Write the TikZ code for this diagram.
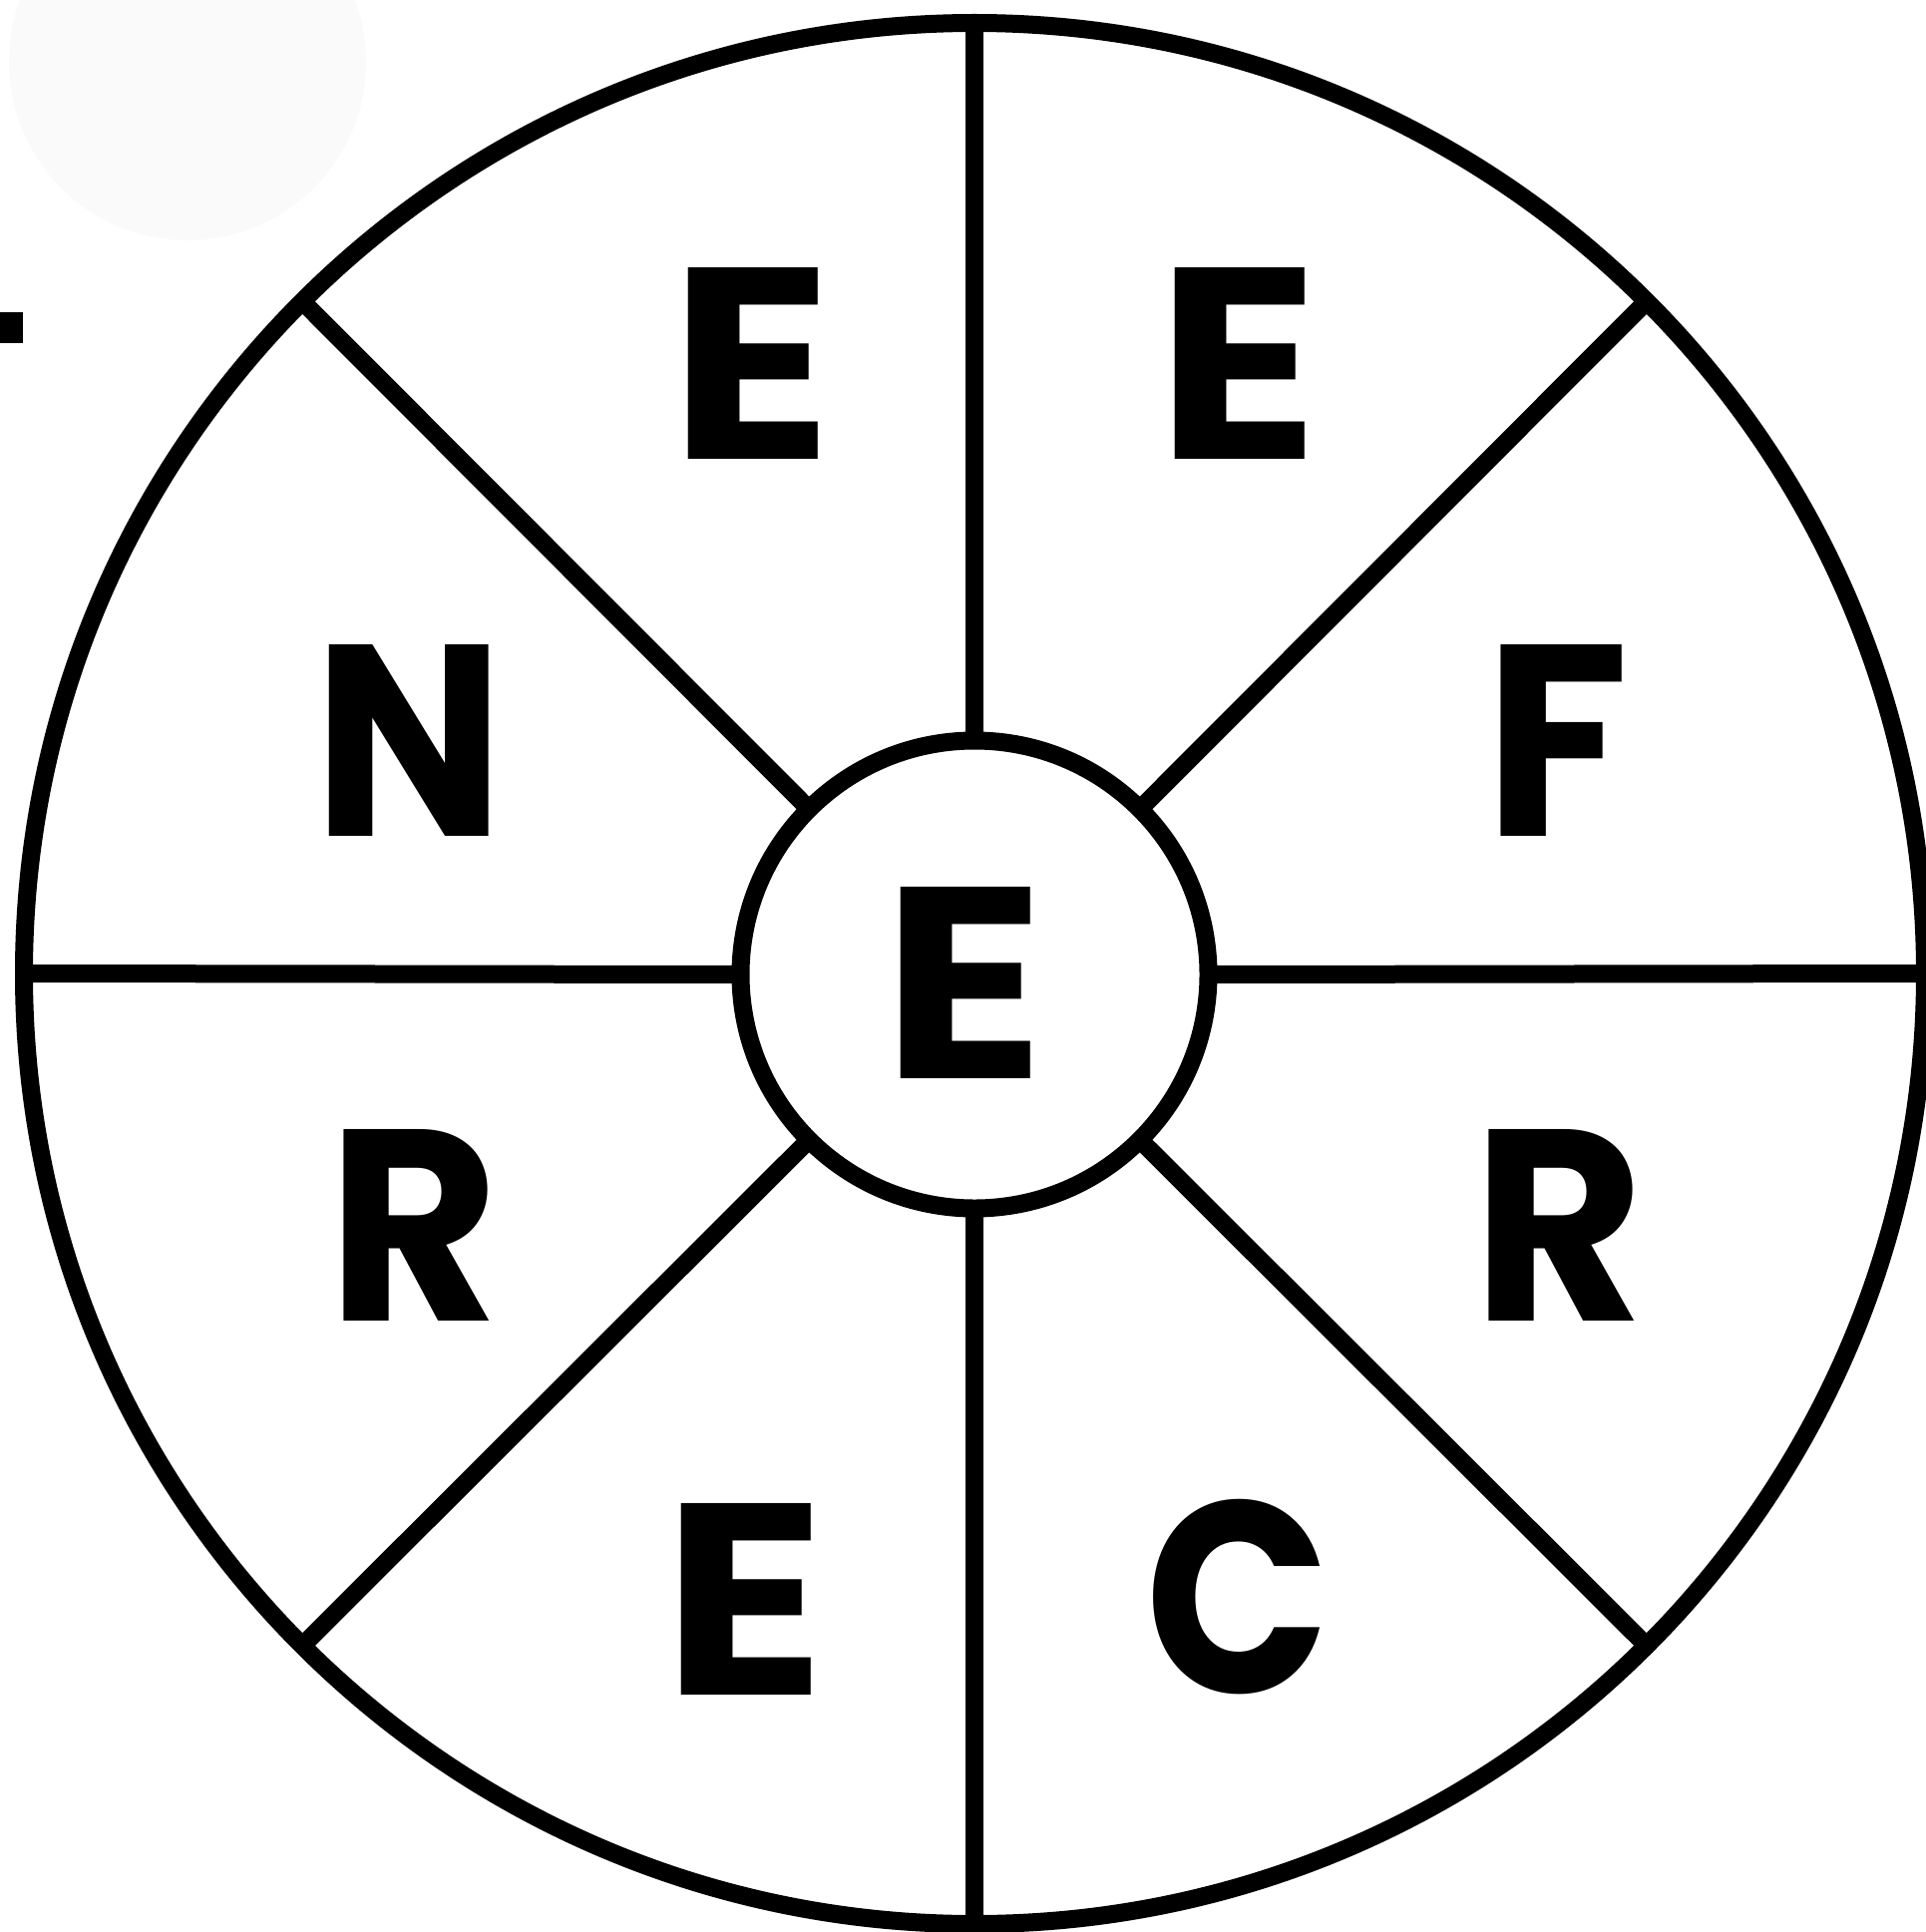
\documentclass[tikz,border=0pt]{standalone}
\usepackage{graphicx}
\usepackage{fontspec}
\setmainfont{Poppins}
\begin{document}
\begin{tikzpicture}[x=0.5pt,y=-0.5pt,
  ring/.style={circle,draw=black,line width=9pt,outer sep=0pt,inner sep=0pt},
  spoke/.style={draw=black,line width=9pt},
  letter/.style={anchor=base,inner sep=0pt,font=\fontsize{136.8}{140}\selectfont\bfseries}]
\useasboundingbox (0,0) rectangle (1931,1937);
\fill[white] (0,0) rectangle (1931,1937);
\fill[black!2] (188,62) circle[radius=89.5pt];
\fill[black] (0,313) rectangle (23,344);
\node[ring,minimum size=953pt] (outer) at (977,976) {};
\node[ring,minimum size=234.5pt] (inner) at (977,977) {};
\foreach \a in {0,45,...,315}{
  \draw[spoke] (inner.\a) -- (outer.\a);
}
\node[letter] (l1) at (753,460) {\scalebox{1.105}[1]{E}};
\node[letter] (l2) at (1241,460) {\scalebox{1.105}[1]{E}};
\node[letter] (l3) at (410.5,838) {\scalebox{0.93}[1]{N}};
\node[letter] (l4) at (1561,838) {\scalebox{0.97}[1]{F}};
\node[letter] (l5) at (966,1081) {\scalebox{1.105}[1]{E}};
\node[letter] (l6) at (415,1324) {\scalebox{0.967}[1]{R}};
\node[letter] (l7) at (1562.5,1324) {\scalebox{0.967}[1]{R}};
\node[letter] (l8) at (746,1699) {\scalebox{1.105}[1]{E}};
\node[letter] (l9) at (1241.5,1697) {\scalebox{0.89}[1]{C}};
\end{tikzpicture}
\end{document}
